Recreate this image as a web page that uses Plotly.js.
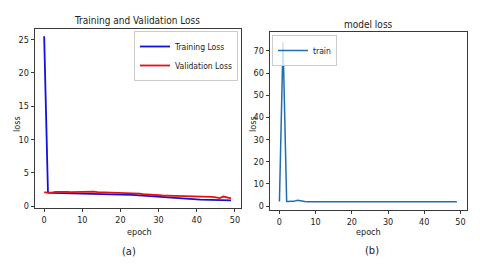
<!DOCTYPE html>
<html><head><meta charset="utf-8">
<script src="https://cdn.plot.ly/plotly-3.0.1.min.js"></script>
<style>html,body{margin:0;padding:0;background:#fff}#c{width:480px;height:270px}
svg text{font-stretch:condensed !important;}</style>
</head><body><div id="c"></div>
<script>
var epochs = [];
for (var i = 0; i < 50; i++) epochs.push(i);
var trainingLoss = [25.5, 2.0, 1.96, 1.95, 1.95, 1.94, 1.93, 1.93, 1.92, 1.91, 1.9, 1.9, 1.89, 1.88, 1.87, 1.86, 1.84, 1.83, 1.82, 1.8, 1.78, 1.75, 1.72, 1.68, 1.64, 1.6, 1.52, 1.45, 1.4, 1.35, 1.3, 1.27, 1.24, 1.21, 1.18, 1.15, 1.12, 1.1, 1.07, 1.04, 1.0, 0.97, 0.95, 0.93, 0.9, 0.88, 0.86, 0.84, 0.85, 0.86];
var validationLoss = [2.05, 2.0, 2.02, 2.12, 2.15, 2.1, 2.12, 2.08, 2.1, 2.13, 2.08, 2.12, 2.1, 2.15, 2.1, 2.08, 2.05, 2.1, 2.07, 2.03, 2.05, 2.0, 1.98, 1.95, 1.9, 1.85, 1.78, 1.72, 1.7, 1.65, 1.62, 1.58, 1.56, 1.55, 1.52, 1.5, 1.5, 1.48, 1.46, 1.45, 1.42, 1.4, 1.38, 1.36, 1.38, 1.3, 1.2, 1.42, 1.3, 1.15];
var modelTrainLoss = [2.0, 74.0, 2.0, 1.95, 2.1, 2.6, 2.2, 2.0, 1.95, 1.9, 1.9, 1.9, 1.9, 1.9, 1.9, 1.9, 1.9, 1.9, 1.9, 1.9, 1.9, 1.9, 1.9, 1.9, 1.9, 1.9, 1.9, 1.9, 1.9, 1.9, 1.9, 1.9, 1.9, 1.9, 1.9, 1.9, 1.9, 1.9, 1.9, 1.9, 1.9, 1.9, 1.9, 1.9, 1.9, 1.9, 1.9, 1.9, 1.9, 1.9];
var xTicks = [0, 10, 20, 30, 40, 50];
var yTicksA = [0, 5, 10, 15, 20, 25];
var yTicksB = [0, 10, 20, 30, 40, 50, 60, 70];

var FONT = '"DejaVu Sans", sans-serif';
var W = 480, H = 270;
function px(x){return x/W;} function py(y){return 1 - y/H;}

var traces = [
  {x: epochs, y: trainingLoss, name: 'Training Loss', type: 'scatter', mode: 'lines',
   line: {color: '#1010e0', width: 1.8}, xaxis: 'x', yaxis: 'y', legend: 'legend'},
  {x: epochs, y: validationLoss, name: 'Validation Loss', type: 'scatter', mode: 'lines',
   line: {color: '#e81010', width: 1.8}, xaxis: 'x', yaxis: 'y', legend: 'legend'},
  {x: epochs, y: modelTrainLoss, name: 'train', type: 'scatter', mode: 'lines',
   line: {color: '#1f6fae', width: 1.5}, xaxis: 'x2', yaxis: 'y2', legend: 'legend2'}
];

function ax(domain, range, ticks, anchor) {
  return {domain: domain, range: range, tickvals: ticks, ticktext: ticks.map(String),
    showline: true, mirror: true, linecolor: '#3a3a3a', linewidth: 1.3,
    ticks: 'outside', ticklen: 3, tickcolor: '#3a3a3a', showgrid: false, zeroline: false,
    tickfont: {family: FONT, size: 9, color: '#222'}, anchor: anchor, fixedrange: true};
}
function ann(text, x, y, size, angle) {
  return {text: text, x: px(x), y: py(y), xref: 'paper', yref: 'paper', xanchor: 'center',
    yanchor: 'middle', showarrow: false, textangle: angle || 0,
    font: {family: FONT, size: size, color: '#222'}};
}

var layout = {
  width: W, height: H, margin: {l: 0, r: 0, t: 0, b: 0},
  paper_bgcolor: '#fff', plot_bgcolor: '#fff', font: {family: FONT, color: '#222'},
  xaxis: ax([px(35), px(241)], [-2.4, 51.6], xTicks, 'y'),
  yaxis: ax([py(208), py(29)], [-0.3, 26.6], yTicksA, 'x'),
  xaxis2: ax([px(270), px(467)], [-2.6, 51.8], xTicks, 'y2'),
  yaxis2: ax([py(210), py(32)], [-1.8, 78.5], yTicksB, 'x2'),
  legend: {x: px(238), y: py(31), xanchor: 'right', yanchor: 'top', bgcolor: 'rgba(255,255,255,0.8)',
    bordercolor: '#ccc', borderwidth: 1, font: {family: FONT, size: 8.5, color: '#222'},
    itemwidth: 30, tracegroupgap: 0},
  legend2: {x: px(272), y: py(35), xanchor: 'left', yanchor: 'top', bgcolor: 'rgba(255,255,255,0.8)',
    bordercolor: '#ccc', borderwidth: 1, font: {family: FONT, size: 8.5, color: '#222'},
    itemwidth: 30},
  showlegend: true,
  annotations: [
    ann('Training and Validation Loss', 137, 21, 10),
    ann('model loss', 368, 24, 10),
    ann('epoch', 139, 232, 9),
    ann('epoch', 368, 232, 9),
    ann('loss', 17, 124, 9, -90),
    ann('loss', 253, 124, 9, -90),
    ann('(a)', 129, 251, 11),
    ann('(b)', 372, 250, 11)
  ]
};
Plotly.newPlot('c', traces, layout, {staticPlot: true, displayModeBar: false});
</script></body></html>
